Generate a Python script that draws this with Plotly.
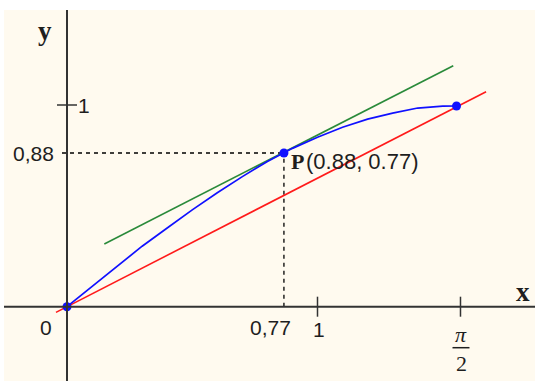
import plotly.graph_objects as go

# data
curve_x = [0.0, 0.1, 0.2, 0.3, 0.4, 0.5, 0.6, 0.7, 0.8, 0.9, 1.0, 1.1, 1.2, 1.3, 1.4, 1.5, 1.555]
curve_y = [0.0, 0.10, 0.20, 0.30, 0.39, 0.48, 0.565, 0.645, 0.72, 0.785, 0.84, 0.89, 0.93, 0.96, 0.985, 0.994, 0.995]
secant_x = [-0.044, 1.673]
secant_y = [-0.028, 1.066]
tangent_x = [0.149, 1.542]
tangent_y = [0.311, 1.195]
point_P = (0.866, 0.762)
end_pt = (1.555, 0.995)
x_ticks = [1.0, 1.5708]
y_ticks = [1.0]
label_xP = "0,77"
label_yP = "0,88"
label_P = "(0.88, 0.77)"

# pixel scales (for converting small pixel offsets)
XS = 250.5
YS = 201.7
x_range = [(4 - 67) / XS, (535 - 67) / XS]
y_range = [(306.7 - 381) / YS, (306.7 - 10) / YS]

AX = "#333333"
TXT = "#1e1e1e"
fig = go.Figure()

# dashed guides
fig.add_trace(go.Scatter(x=[-5 / XS, point_P[0]], y=[point_P[1], point_P[1]], mode="lines",
                         line=dict(color="black", width=1.3, dash="4px,4px"), hoverinfo="skip"))
fig.add_trace(go.Scatter(x=[point_P[0], point_P[0]], y=[0, point_P[1]], mode="lines",
                         line=dict(color="black", width=1.3, dash="4px,4px"), hoverinfo="skip"))

fig.add_trace(go.Scatter(x=secant_x, y=secant_y, mode="lines", line=dict(color="#ff1a1a", width=1.6)))
fig.add_trace(go.Scatter(x=tangent_x, y=tangent_y, mode="lines", line=dict(color="#2a8a3a", width=1.6)))
fig.add_trace(go.Scatter(x=curve_x, y=curve_y, mode="lines", line=dict(color="#1010ff", width=1.7)))
fig.add_trace(go.Scatter(x=[0, point_P[0], end_pt[0]], y=[0, point_P[1], end_pt[1]], mode="markers",
                         marker=dict(color="#1010ff", size=9)))

shapes = [
    dict(type="line", xref="x", yref="y", x0=x_range[0], x1=x_range[1], y0=0, y1=0,
         line=dict(color=AX, width=2)),
    dict(type="line", xref="x", yref="y", x0=0, x1=0, y0=y_range[0], y1=y_range[1],
         line=dict(color=AX, width=2)),
]
for t in x_ticks:
    shapes.append(dict(type="line", xref="x", yref="y", x0=t, x1=t, y0=-10 / YS, y1=10 / YS,
                       line=dict(color=AX, width=1.5)))
for t in y_ticks:
    shapes.append(dict(type="line", xref="x", yref="y", x0=-10 / XS, x1=10 / XS, y0=t, y1=t,
                       line=dict(color=AX, width=1.5)))
# fraction bar of pi/2
shapes.append(dict(type="line", xref="x", yref="y", x0=x_ticks[1] - 8 / XS, x1=x_ticks[1] + 9 / XS,
                   y0=-41 / YS, y1=-41 / YS, line=dict(color=TXT, width=1.5)))

SANS = "Liberation Sans, Arial, sans-serif"
SERIF = "Liberation Serif, Times New Roman, serif"
ann = []
def A(x, y, text, size=21, family=SANS, xanchor="center", yanchor="middle", xs=0, ys=0):
    ann.append(dict(x=x, y=y, xref="x", yref="y", text=text, showarrow=False,
                    font=dict(family=family, size=size, color=TXT),
                    xanchor=xanchor, yanchor=yanchor, xshift=xs, yshift=ys))

A(0, y_range[1], "<b>y</b>", size=27, family=SERIF, xanchor="right", yanchor="middle", xs=-13, ys=-21)
A(x_range[1], 0, "<b>x</b>", size=27, family=SERIF, xanchor="right", yanchor="middle", xs=-3, ys=15)
A(0, y_ticks[0], "1", xanchor="left", xs=9, ys=0)
A(0, point_P[1], label_yP, xanchor="right", xs=-11, ys=0)
A(0, 0, "0", xanchor="right", xs=-13, ys=-21)
A(point_P[0], 0, label_xP, xanchor="center", xs=-13, ys=-21)
A(x_ticks[0], 0, "1", xanchor="center", xs=1, ys=-23)
A(x_ticks[1], 0, "<i>π</i>", size=22, family=SERIF, xanchor="center", xs=1, ys=-28)
A(x_ticks[1], 0, "2", size=22, family=SERIF, xanchor="center", xs=1, ys=-57)
A(point_P[0], point_P[1], "<b>P</b>", size=22, family=SERIF, xanchor="left", xs=5, ys=-8)
A(point_P[0], point_P[1], label_P, size=22, family=SANS, xanchor="left", xs=20, ys=-8)

fig.update_layout(
    width=535, height=381,
    margin=dict(l=4, r=0, t=10, b=0),
    paper_bgcolor="white", plot_bgcolor="#fffaef",
    showlegend=False, shapes=shapes, annotations=ann,
    xaxis=dict(range=x_range, visible=False, fixedrange=True),
    yaxis=dict(range=y_range, visible=False, fixedrange=True),
)
fig.write_html("out.html", config={"displayModeBar": False},
               post_script="document.body.style.margin='0';document.body.style.overflow='hidden';")
